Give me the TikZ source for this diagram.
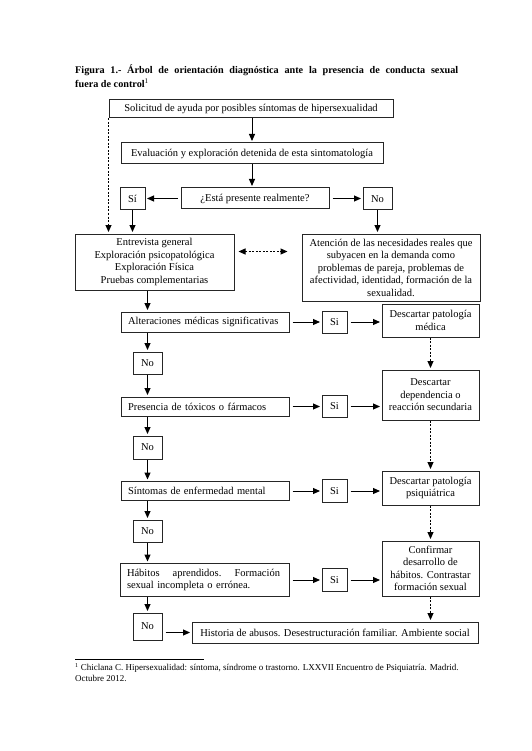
\documentclass[tikz,border=0pt]{standalone}
\usepackage{fontspec}
\setmainfont{Liberation Serif}
\usetikzlibrary{arrows.meta,calc}
\newcommand\bxfont{\fontsize{10.5}{12.5}\selectfont}
\newcommand\ttlfont{\fontsize{10.2}{13}\selectfont\bfseries}
\newcommand\ftfont{\fontsize{9}{11}\selectfont}
\begin{document}
\begin{tikzpicture}[x=1pt,y=-1pt,
  box/.style={draw=black!85, line width=1pt, inner sep=0pt, align=center, font=\bxfont},
  lbox/.style={box, align=left, inner xsep=7pt, inner ysep=0pt},
  tip/.tip={Triangle[length=7pt,width=6pt]},
  arr/.style={-tip, line width=1pt, shorten >=1.5pt},
  darr/.style={arr, dash pattern=on 2pt off 1.5pt},
  dbl/.style={tip-tip, line width=1pt, dash pattern=on 2pt off 1.5pt},
]
\useasboundingbox[fill=white] (0,0) rectangle (531,751);

% title
\node[anchor=west, inner sep=0pt, font=\ttlfont] (t1) at (75,70) {\makebox[383pt][s]{Figura 1.- Árbol de orientación diagnóstica ante la presencia de conducta sexual}};
\node[anchor=west, inner sep=0pt, font=\ttlfont] (t2) at (75,83) {fuera de control\textsuperscript{\mdseries 1}};

% boxes
\node[box, minimum width=284pt, minimum height=18pt] (sol) at (251,109) {Solicitud de ayuda por posibles síntomas de hipersexualidad};
\node[box, minimum width=262pt, minimum height=21pt] (eval) at (252,153.5) {Evaluación y exploración detenida de esta sintomatología};
\node[box, minimum width=148pt, minimum height=21pt] (esta) at (255,198.5) {¿Está presente realmente?};
\node[box, minimum width=25pt, minimum height=22pt] (si0) at (132.5,199) {Sí};
\node[box, minimum width=29pt, minimum height=22pt] (no0) at (377.5,199) {No};
\node[box, minimum width=159pt, minimum height=56pt] (ent) at (154.5,262) {Entrevista general\\Exploración psicopatológica\\Exploración Física\\Pruebas complementarias};
\node[box, minimum width=178pt, minimum height=67pt] (aten) at (391,267.5) {Atención de las necesidades reales que\\subyacen en la demanda como\\problemas de pareja, problemas de\\afectividad, identidad, formación de la\\sexualidad.};

\node[lbox, text width=154pt, minimum height=20pt] (alt) at (205,322) {Alteraciones médicas significativas};
\node[box, minimum width=25pt, minimum height=22pt] (si1) at (334.5,322) {Si};
\node[box, minimum width=97pt, minimum height=33pt] (med) at (430.5,320.5) {Descartar patología\\médica};
\node[box, minimum width=29pt, minimum height=22pt] (no1) at (147.5,363) {No};

\node[lbox, text width=154pt, minimum height=19pt] (pre) at (205,406.5) {Presencia de tóxicos o fármacos};
\node[box, minimum width=25pt, minimum height=22pt] (si2) at (334.5,406.5) {Si};
\node[box, minimum width=97pt, minimum height=50pt] (dep) at (430.5,395) {Descartar\\dependencia o\\reacción secundaria};
\node[box, minimum width=29pt, minimum height=23pt] (no2) at (147.5,447.5) {No};

\node[lbox, text width=154pt, minimum height=19pt] (sin) at (205,491) {Síntomas de enfermedad mental};
\node[box, minimum width=25pt, minimum height=23pt] (si3) at (334.5,491) {Si};
\node[box, minimum width=97pt, minimum height=34pt] (psi) at (430.5,488) {Descartar patología\\psiquiátrica};
\node[box, minimum width=29pt, minimum height=22pt] (no3) at (147.5,531) {No};

\node[lbox, text width=155pt, minimum height=33pt] (hab) at (204.5,580) {\makebox[153pt][l]{Hábitos\hfill aprendidos.\hfill Formación}\\sexual incompleta o errónea.};
\node[box, minimum width=25pt, minimum height=23pt] (si4) at (334.5,580) {Si};
\node[box, minimum width=97pt, minimum height=55pt] (con) at (430.5,568.5) {Confirmar\\desarrollo de\\hábitos. Contrastar\\formación sexual};
\node[box, minimum width=29pt, minimum height=27pt] (no4) at (147.5,626.5) {No};
\node[box, minimum width=286pt, minimum height=21pt] (his) at (335,632.5) {Historia de abusos. Desestructuración familiar. Ambiente social};

% connectors top
\draw[arr] (eval.north |- sol.south) -- (eval.north);
\draw[arr] (eval.south) -- (eval.south |- esta.north);
\draw[arr, shorten <=3pt] (esta.west) -- (esta.west -| si0.east);
\draw[arr, shorten <=3pt] (esta.east) -- (esta.east -| no0.west);
\draw[arr] (si0.south) -- (si0.south |- ent.north);
\draw[arr] (no0.south) -- (no0.south |- aten.north);
\draw[darr] (sol.south west) -- (sol.south west |- ent.north);
\coordinate (dl) at ($(ent.north east)+(4,18)$);
\coordinate (dr) at ($(aten.north west)+(-14,18)$);
\draw[dbl] (dl) -- (dr);

% left column
\draw[arr] (no1.north |- ent.south) -- (no1.north |- alt.north);
\draw[arr] (no1.north |- alt.south) -- (no1.north);
\draw[arr] (no1.south) -- (no1.south |- pre.north);
\draw[arr] (no2.north |- pre.south) -- (no2.north);
\draw[arr] (no2.south) -- (no2.south |- sin.north);
\draw[arr] (no3.north |- sin.south) -- (no3.north);
\draw[arr] (no3.south) -- (no3.south |- hab.north);
\draw[arr] (no4.north |- hab.south) -- (no4.north);
\draw[arr, shorten <=3pt] (his.west -| no4.east) -- (his.west);

% rows
\draw[arr, shorten <=3pt] (alt.east) -- (alt.east -| si1.west);
\draw[arr, shorten <=3pt] (si1.east) -- (si1.east -| med.west);
\draw[arr, shorten <=3pt] (pre.east |- si2.west) -- (si2.west);
\draw[arr, shorten <=3pt] (si2.east) -- (si2.east -| dep.west);
\draw[arr, shorten <=3pt] (sin.east |- si3.west) -- (si3.west);
\draw[arr, shorten <=3pt] (si3.east) -- (si3.east -| psi.west);
\draw[arr, shorten <=3pt] (hab.east |- si4.west) -- (si4.west);
\draw[arr, shorten <=3pt] (si4.east) -- (si4.east -| con.west);

% right column dashed
\draw[darr] (med.south) -- (dep.north);
\draw[darr] (dep.south) -- (psi.north);
\draw[darr] (psi.south) -- (con.north);
\draw[darr] (con.south) -- (con.south |- his.north);

% footnote
\coordinate (fa) at (75,659);
\coordinate (fb) at (204,659);
\draw[line width=0.6pt] (fa) -- (fb);
\node[anchor=north west, inner sep=0pt, align=left, font=\ftfont] (fn) at (75,663) {\textsuperscript{1} Chiclana C. Hipersexualidad: síntoma, síndrome o trastorno. LXXVII Encuentro de Psiquiatría. Madrid.\\Octubre 2012.};
\end{tikzpicture}
\end{document}
